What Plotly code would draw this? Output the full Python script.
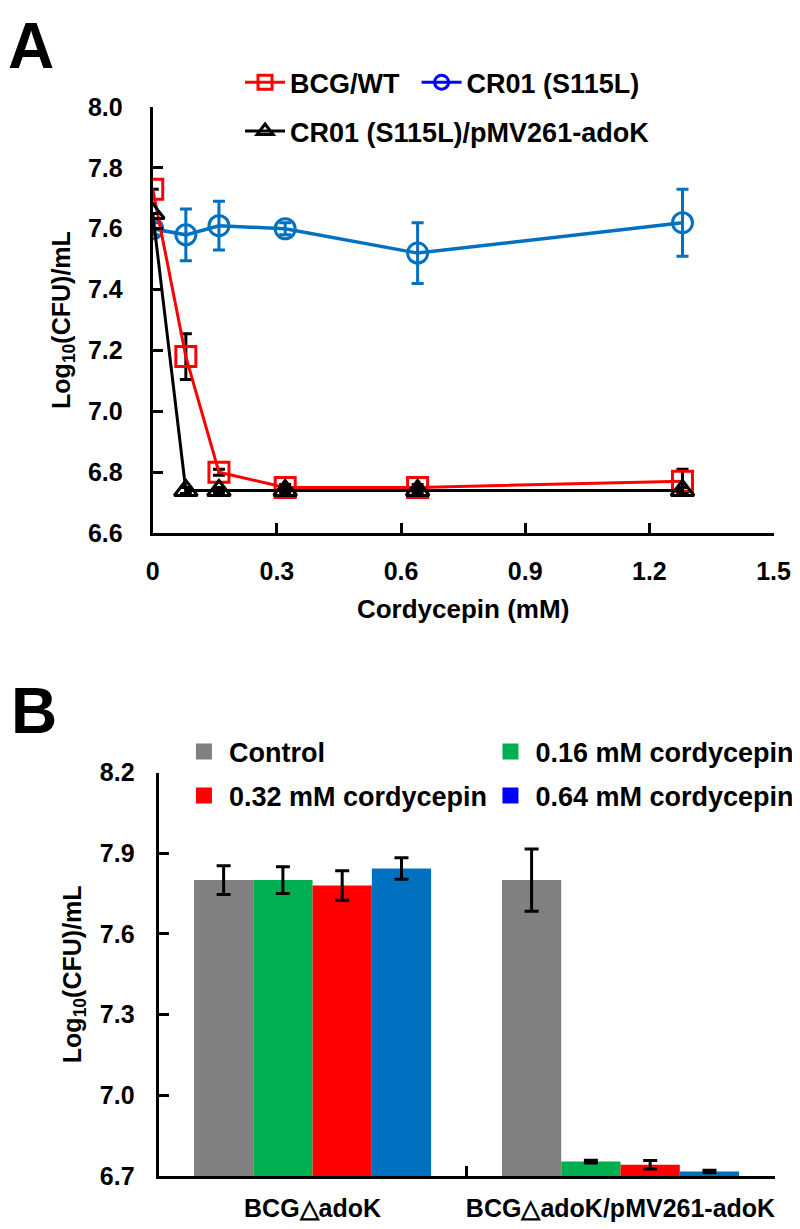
import plotly.graph_objects as go

# ---------------- Panel A data ----------------
conc_mM = [0, 0.08, 0.16, 0.32, 0.64, 1.28]
wt = [7.73, 7.18, 6.80, 6.75, 6.75, 6.77]
wt_err = [0.0, 0.075, 0.01, 0.01, 0.01, 0.04]
s115l = [7.60, 7.58, 7.61, 7.60, 7.52, 7.62]
s115l_err = [0.02, 0.085, 0.08, 0.02, 0.10, 0.11]
comp = [7.65, 6.74, 6.74, 6.74, 6.74, 6.74]
comp_err = [0.0, 0.01, 0.01, 0.01, 0.01, 0.01]
xA_ticks = [0, 0.3, 0.6, 0.9, 1.2, 1.5]
xA_labels = ["0", "0.3", "0.6", "0.9", "1.2", "1.5"]
yA_ticks = [6.6, 6.8, 7.0, 7.2, 7.4, 7.6, 7.8, 8.0]
yA_labels = ["6.6", "6.8", "7.0", "7.2", "7.4", "7.6", "7.8", "8.0"]

# ---------------- Panel B data ----------------
groups = ["BCG\u25b3adoK", "BCG\u25b3adoK/pMV261-adoK"]
control = [7.80, 7.80]
control_err = [0.053, 0.116]
c016 = [7.80, 6.754]
c016_err = [0.05, 0.005]
c032 = [7.78, 6.742]
c032_err = [0.055, 0.016]
c064 = [7.843, 6.717]
c064_err = [0.04, 0.005]
yB_ticks = [6.7, 7.0, 7.3, 7.6, 7.9, 8.2]
yB_labels = ["6.7", "7.0", "7.3", "7.6", "7.9", "8.2"]

RED = "#FF0000"
BLUE = "#0070C0"
PURE_BLUE = "#0000FF"
BLACK = "#000000"
GRAY = "#808080"
GREEN = "#00B050"

FONT = "Liberation Sans, Arial, sans-serif"

fig = go.Figure()

# Panel A series
fig.add_trace(go.Scatter(
    x=conc_mM, y=s115l, mode="lines+markers", showlegend=False,
    line=dict(color=BLUE, width=3.5),
    marker=dict(symbol="circle-open", size=20, color=BLUE, line=dict(width=3)),
    error_y=dict(type="data", array=s115l_err, color=BLUE, thickness=3, width=6),
    xaxis="x", yaxis="y"))
fig.add_trace(go.Scatter(
    x=conc_mM, y=wt, mode="lines+markers", showlegend=False,
    line=dict(color=RED, width=3),
    marker=dict(symbol="square-open", size=20, color=RED, line=dict(width=3)),
    error_y=dict(type="data", array=wt_err, color=BLACK, thickness=3, width=6),
    xaxis="x", yaxis="y"))
fig.add_trace(go.Scatter(
    x=conc_mM, y=comp, mode="lines+markers", showlegend=False,
    line=dict(color=BLACK, width=3),
    marker=dict(symbol="triangle-up-open", size=20, color=BLACK, line=dict(width=3)),
    error_y=dict(type="data", array=comp_err, color=BLACK, thickness=3, width=6),
    xaxis="x", yaxis="y"))

# Panel A legend entries (one legend each, for exact placement)
fig.add_trace(go.Scatter(x=[None], y=[None], mode="lines+markers", name="BCG/WT",
    line=dict(color=RED, width=3),
    marker=dict(symbol="square-open", size=14, color=RED, line=dict(width=3)),
    legend="legend", xaxis="x", yaxis="y"))
fig.add_trace(go.Scatter(x=[None], y=[None], mode="lines+markers", name="CR01 (S115L)",
    line=dict(color=PURE_BLUE, width=3),
    marker=dict(symbol="circle-open", size=14, color=PURE_BLUE, line=dict(width=3)),
    legend="legend2", xaxis="x", yaxis="y"))
fig.add_trace(go.Scatter(x=[None], y=[None], mode="lines+markers", name="CR01 (S115L)/pMV261-adoK",
    line=dict(color=BLACK, width=3),
    marker=dict(symbol="triangle-up-open", size=14, color=BLACK, line=dict(width=3)),
    legend="legend3", xaxis="x", yaxis="y"))

# Panel B bars
for vals, errs, col in [(control, control_err, GRAY), (c016, c016_err, GREEN),
                        (c032, c032_err, RED), (c064, c064_err, BLUE)]:
    fig.add_trace(go.Bar(
        x=groups, y=vals, marker=dict(color=col, line=dict(width=0)), showlegend=False,
        error_y=dict(type="data", array=errs, color=BLACK, thickness=3, width=7),
        xaxis="x2", yaxis="y2"))

# Panel B legend entries
for name, col, lg in [("Control", GRAY, "legend4"), ("0.16 mM cordycepin", GREEN, "legend5"),
                      ("0.32 mM cordycepin", RED, "legend6"), ("0.64 mM cordycepin", PURE_BLUE, "legend7")]:
    fig.add_trace(go.Scatter(x=[None], y=[None], mode="markers", name=name,
        marker=dict(symbol="square", size=16, color=col),
        legend=lg, xaxis="x2", yaxis="y2"))

W, H = 800, 1229
def px_x(p):
    return p / W
def px_y(p):
    return 1 - p / H

axis_common = dict(showline=True, linewidth=3, linecolor=BLACK, ticks="inside",
                   ticklen=10, tickwidth=3, tickcolor=BLACK, showgrid=False,
                   zeroline=False, tickfont=dict(size=25, color=BLACK))

def leg(x_text, y_mid, itemwidth, size):
    gap = itemwidth + 10
    return dict(x=px_x(x_text - gap), y=px_y(y_mid), xanchor="left", yanchor="middle",
                orientation="h", itemwidth=itemwidth, font=dict(size=size),
                bgcolor="rgba(0,0,0,0)", borderwidth=0)

fig.update_layout(
    width=W, height=H,
    margin=dict(l=0, r=0, t=0, b=0),
    paper_bgcolor="white", plot_bgcolor="white",
    font=dict(family=FONT, size=24, color=BLACK, weight="bold"),
    barmode="group", bargap=0.23, bargroupgap=0,
    xaxis=dict(domain=[px_x(142), px_x(782)], anchor="y", range=[0, 1.5],
               tickmode="array", tickvals=xA_ticks, ticktext=xA_labels,
               ticklabelstandoff=14,
               title=dict(text="Cordycepin (mM)", standoff=16, font=dict(size=26)),
               **axis_common),
    yaxis=dict(domain=[px_y(523), px_y(87)], anchor="x", range=[6.6, 8.0],
               tickmode="array", tickvals=yA_ticks, ticktext=yA_labels,
               ticklabelstandoff=22,
               title=dict(text="Log<sub>10</sub>(CFU)/mL", standoff=11, font=dict(size=25)),
               **axis_common),
    xaxis2=dict(domain=[px_x(148), px_x(783)], anchor="y2", type="category",
                tickson="boundaries", tickangle=0, ticklabelstandoff=8, **axis_common),
    yaxis2=dict(domain=[px_y(1181), px_y(768)], anchor="x2", range=[6.7, 8.2],
                tickmode="array", tickvals=yB_ticks, ticktext=yB_labels,
                ticklabelstandoff=16,
                title=dict(text="Log<sub>10</sub>(CFU)/mL", standoff=12, font=dict(size=25)),
                **axis_common),
    legend=leg(282, 62, 40, 27),
    legend2=leg(464, 62, 40, 27),
    legend3=leg(282, 112, 40, 27),
    legend4=leg(219, 747, 40, 27),
    legend5=leg(535, 747, 40, 27),
    legend6=leg(219, 792, 40, 27),
    legend7=leg(535, 792, 40, 27),
    annotations=[
        dict(text="A", x=0, y=1, xref="paper", yref="paper", xanchor="left", yanchor="top",
             showarrow=False, xshift=-9, yshift=14, font=dict(size=64, color=BLACK)),
        dict(text="B", x=0, y=px_y(676), xref="paper", yref="paper", xanchor="left", yanchor="top",
             showarrow=False, xshift=-6, yshift=10, font=dict(size=64, color=BLACK)),
    ],
)

fig.write_html("out.html")
